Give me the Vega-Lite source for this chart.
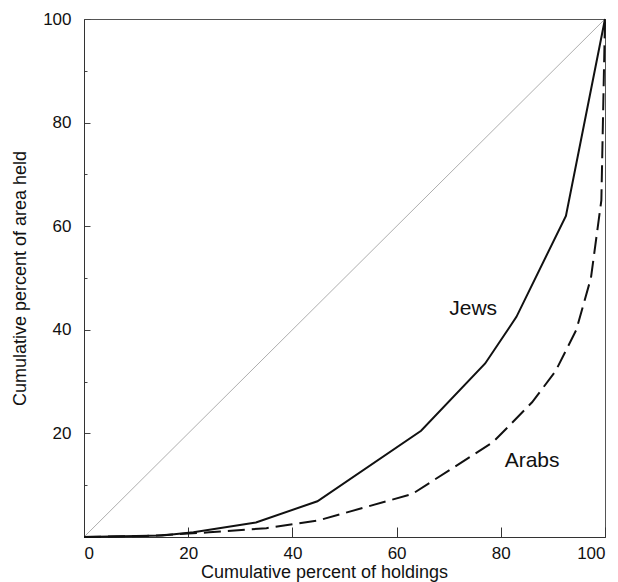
{
  "$schema": "https://vega.github.io/schema/vega-lite/v6.json",
  "autosize": {"type": "none"},
  "width": 521,
  "height": 518,
  "padding": {"left": 84, "top": 19, "right": 13, "bottom": 45},
  "background": "white",
  "config": {
    "view": {"stroke": "#555", "strokeWidth": 1},
    "font": "Liberation Sans"
  },
  "datasets": {
    "curves": [
      {"series": "Equality", "holdings": 0, "area": 0},
      {"series": "Equality", "holdings": 100, "area": 100},
      {"series": "Jews", "holdings": 0, "area": 0},
      {"series": "Jews", "holdings": 15, "area": 0.3},
      {"series": "Jews", "holdings": 21, "area": 0.9},
      {"series": "Jews", "holdings": 33, "area": 2.8},
      {"series": "Jews", "holdings": 44.8, "area": 6.9},
      {"series": "Jews", "holdings": 64.7, "area": 20.5},
      {"series": "Jews", "holdings": 77, "area": 33.5},
      {"series": "Jews", "holdings": 83, "area": 42.5},
      {"series": "Jews", "holdings": 92.5, "area": 62},
      {"series": "Jews", "holdings": 100, "area": 100},
      {"series": "Arabs", "holdings": 0, "area": 0},
      {"series": "Arabs", "holdings": 12, "area": 0.2},
      {"series": "Arabs", "holdings": 24, "area": 0.9},
      {"series": "Arabs", "holdings": 35, "area": 1.7},
      {"series": "Arabs", "holdings": 45, "area": 3.2},
      {"series": "Arabs", "holdings": 63, "area": 8.3},
      {"series": "Arabs", "holdings": 78.5, "area": 18.3},
      {"series": "Arabs", "holdings": 86, "area": 26},
      {"series": "Arabs", "holdings": 90.5, "area": 32},
      {"series": "Arabs", "holdings": 94.5, "area": 40},
      {"series": "Arabs", "holdings": 97.3, "area": 50},
      {"series": "Arabs", "holdings": 99.3, "area": 65},
      {"series": "Arabs", "holdings": 100, "area": 100}
    ],
    "labels": [
      {"text": "Jews", "holdings": 74.7, "area": 44},
      {"text": "Arabs", "holdings": 86, "area": 14.7}
    ]
  },
  "encoding": {
    "x": {
      "field": "holdings", "type": "quantitative",
      "scale": {"domain": [0, 100], "nice": false, "zero": false},
      "axis": {
        "title": "Cumulative percent of holdings",
        "values": [0, 20, 40, 60, 80, 100],
        "grid": false,
        "domainColor": "#333", "domainWidth": 1,
        "tickColor": "#333", "tickWidth": 1, "tickSize": -10,
        "labelPadding": 18, "labelFontSize": 17, "labelColor": "#111",
        "titleFontSize": 18, "titleFontWeight": "normal", "titleColor": "#111",
        "titleX": 240, "titleY": 40, "titleBaseline": "alphabetic"
      }
    },
    "y": {
      "field": "area", "type": "quantitative",
      "scale": {"domain": [0, 100], "nice": false, "zero": false},
      "axis": {
        "title": "Cumulative percent of area held",
        "values": [0, 10, 20, 30, 40, 50, 60, 70, 80, 90, 100],
        "labelExpr": "datum.value % 20 == 0 && datum.value > 0 ? datum.label : ''",
        "grid": false,
        "domainColor": "#333", "domainWidth": 1,
        "tickColor": "#444", "tickWidth": 1,
        "tickSize": {"condition": {"test": "datum.value % 20 == 0", "value": -6}, "value": -3},
        "labelPadding": 19, "labelFontSize": 17, "labelColor": "#111",
        "titleFontSize": 18, "titleFontWeight": "normal", "titleColor": "#111",
        "titleX": -59, "titleBaseline": "alphabetic"
      }
    }
  },
  "layer": [
    {
      "data": {"name": "curves"},
      "transform": [{"filter": "datum.series == 'Equality'"}],
      "mark": {"type": "line", "color": "#999", "strokeWidth": 0.8}
    },
    {
      "data": {"name": "curves"},
      "transform": [{"filter": "datum.series == 'Jews'"}],
      "mark": {"type": "line", "color": "#111", "strokeWidth": 2}
    },
    {
      "data": {"name": "curves"},
      "transform": [{"filter": "datum.series == 'Arabs'"}],
      "mark": {"type": "line", "color": "#111", "strokeWidth": 2, "strokeDash": [17, 7]}
    },
    {
      "data": {"name": "labels"},
      "mark": {"type": "text", "fontSize": 21, "color": "#111", "align": "center", "baseline": "middle"},
      "encoding": {"text": {"field": "text"}}
    }
  ]
}
